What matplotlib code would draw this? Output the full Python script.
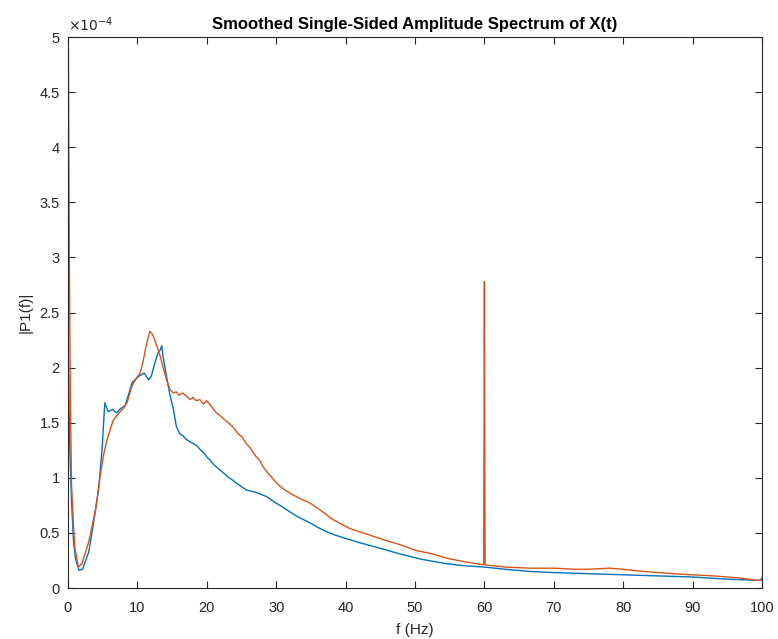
import numpy as np
import matplotlib
matplotlib.use('Agg')
import matplotlib.pyplot as plt
from matplotlib.ticker import FuncFormatter

# frequency (Hz) and amplitude (x 1e-4)
freq_a = [0, 0.1, 0.2, 0.35, 0.5, 0.8, 1.0, 1.5, 2.0, 3.0, 4.0, 4.6, 5.1, 5.6,
          6.0, 6.5, 7.0, 7.5, 8.0, 8.5, 9.2, 9.8, 10.4, 10.8, 11.2, 11.5,
          11.8, 12.2, 12.5, 13.0, 13.3, 13.8, 14.2, 14.7, 15.2, 15.6, 16.0,
          16.5, 17.1, 17.6, 18.0, 18.5, 19.0, 19.5, 20.0, 20.5, 21.0, 21.4,
          22.0, 22.5, 23.1, 23.8, 24.5, 25.1, 25.7, 26.4, 27.0, 27.6, 28.1,
          29.0, 30.1, 31.0, 32.0, 33.5, 34.9, 36.5, 38.2, 40.6, 43.0, 45.4,
          48.0, 50.2, 52.5, 54.6, 57.0, 59.9, 60.0, 60.1, 63.0, 66.6, 70.0,
          73.0, 75.0, 78.0, 80.0, 83.0, 87.2, 90.0, 93.0, 95.0, 97.0, 99.2,
          100]
amp_a = [5.6, 4.2, 2.9, 1.7, 0.95, 0.55, 0.36, 0.19, 0.22, 0.42, 0.72, 1.0,
         1.2, 1.34, 1.42, 1.52, 1.56, 1.60, 1.63, 1.68, 1.83, 1.90, 1.95,
         2.05, 2.18, 2.26, 2.33, 2.30, 2.25, 2.16, 2.10, 1.98, 1.89, 1.80,
         1.77, 1.78, 1.75, 1.77, 1.74, 1.71, 1.73, 1.70, 1.71, 1.67, 1.70,
         1.66, 1.62, 1.59, 1.56, 1.53, 1.50, 1.46, 1.40, 1.37, 1.31, 1.26,
         1.20, 1.16, 1.10, 1.03, 0.95, 0.90, 0.86, 0.81, 0.77, 0.70, 0.62,
         0.54, 0.49, 0.44, 0.39, 0.34, 0.31, 0.27, 0.24, 0.21, 2.78, 0.21,
         0.19, 0.18, 0.18, 0.17, 0.17, 0.18, 0.17, 0.15, 0.13, 0.12, 0.11,
         0.10, 0.09, 0.07, 0.07]

freq_b = [0, 0.2, 0.5, 0.8, 1.1, 1.6, 2.1, 3.0, 3.6, 4.4, 4.9, 5.3, 5.8, 6.4,
          7.0, 7.6, 8.2, 8.7, 9.2, 9.8, 10.4, 11.0, 11.6, 12.0, 12.5, 13.0,
          13.3, 13.5, 13.7, 14.2, 14.7, 15.2, 15.6, 16.1, 16.6, 17.0, 17.5,
          18.1, 18.6, 19.0, 19.5, 20.0, 20.5, 21.0, 21.9, 22.5, 23.0, 23.7,
          24.3, 25.0, 25.7, 26.3, 27.0, 27.8, 28.6, 29.3, 30.0, 30.8, 31.5,
          33.0, 34.9, 36.0, 37.3, 38.5, 40.0, 42.1, 45.0, 47.8, 51.0, 54.6,
          57.5, 60.0, 63.0, 66.6, 70.0, 75.0, 80.0, 85.0, 90.0, 95.0, 99.2,
          99.7, 100]
amp_b = [2.3, 1.4, 0.8, 0.42, 0.26, 0.16, 0.17, 0.33, 0.56, 0.89, 1.25, 1.68,
         1.60, 1.62, 1.59, 1.63, 1.65, 1.75, 1.86, 1.90, 1.93, 1.95, 1.89,
         1.92, 2.04, 2.14, 2.16, 2.20, 2.10, 1.92, 1.75, 1.62, 1.47, 1.40,
         1.38, 1.35, 1.33, 1.31, 1.29, 1.26, 1.23, 1.19, 1.16, 1.12, 1.07,
         1.04, 1.01, 0.98, 0.95, 0.92, 0.89, 0.88, 0.87, 0.85, 0.83, 0.80,
         0.77, 0.74, 0.71, 0.65, 0.59, 0.55, 0.51, 0.48, 0.45, 0.41, 0.36,
         0.31, 0.26, 0.22, 0.20, 0.19, 0.17, 0.15, 0.14, 0.13, 0.12, 0.11,
         0.10, 0.08, 0.07, 0.07, 0.09]

plt.rcParams['font.family'] = ['Liberation Sans', 'DejaVu Sans']
ax_col = '#262626'

fig = plt.figure(figsize=(7.78, 6.39), dpi=100)
ax = fig.add_axes([0.0874, 0.0798, 0.892, 0.8622])

ax.plot(freq_b, np.array(amp_b) * 1e-4, color='#0072BD', lw=1.0)
ax.plot(freq_a, np.array(amp_a) * 1e-4, color='#D95319', lw=1.0)

ax.set_xlim(0, 100)
ax.set_ylim(0, 5e-4)
ax.set_xticks(np.arange(0, 101, 10))
ax.set_yticks(np.arange(0, 5.01, 0.5) * 1e-4)
ax.yaxis.set_major_formatter(FuncFormatter(lambda v, p: f'{v * 1e4:g}'))

ax.tick_params(direction='in', length=5, width=0.8, top=True, right=True,
               colors=ax_col, labelsize=10.5, labelcolor=ax_col)
ax.tick_params(axis='x', pad=9)
ax.tick_params(axis='y', pad=6)
for s in ax.spines.values():
    s.set_color(ax_col)
    s.set_linewidth(0.8)

ax.text(0.0, 1.005, r'$\times10^{-4}$', transform=ax.transAxes,
        fontsize=10, color=ax_col, ha='left', va='bottom')
ax.set_title('Smoothed Single-Sided Amplitude Spectrum of X(t)',
             fontsize=12, fontweight='bold', color='black', pad=6)
ax.set_xlabel('f (Hz)', fontsize=11, color=ax_col, labelpad=6)
ax.set_ylabel('|P1(f)|', fontsize=11, color=ax_col, labelpad=5)

fig.savefig('out.png', dpi=100)
